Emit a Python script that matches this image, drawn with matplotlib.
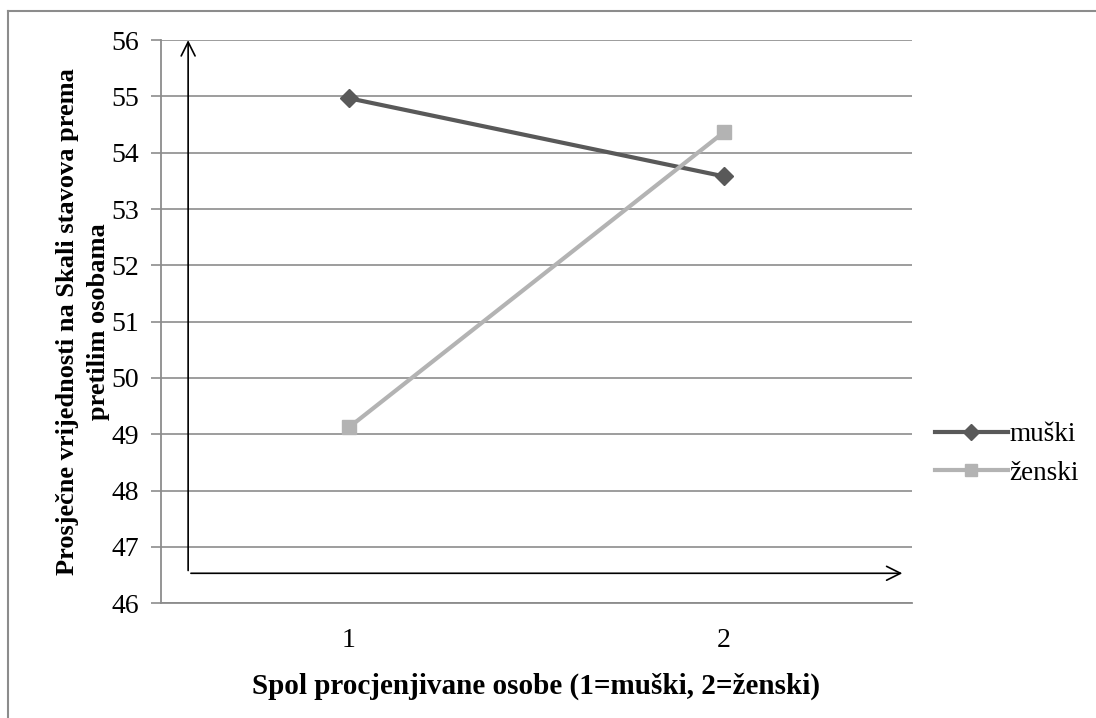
import matplotlib.pyplot as plt
from matplotlib.lines import Line2D

# data
categories = ["1", "2"]
muski = [54.97, 53.58]
zenski = [49.12, 54.37]
series_names = ["muški", "ženski"]

plt.rcParams['font.family'] = ['Liberation Serif', 'DejaVu Serif']

fig = plt.figure(figsize=(10.96, 7.18), dpi=100)
ax = fig.add_axes([0.147, 0.160, 0.685, 0.784])

x = [1, 2]
ax.plot(x, muski, color="#595959", lw=3, marker="D", ms=9, label=series_names[0], zorder=4)
ax.plot(x, zenski, color="#b3b3b3", lw=3, marker="s", ms=10, label=series_names[1], zorder=4)

ax.set_xlim(0.5, 2.5)
ax.set_ylim(46, 56)
ax.set_yticks(range(46, 57))
ax.set_xticks(x)
ax.set_xticklabels(categories)
ax.grid(axis="y", color="#8c8c8c", lw=1.2)
ax.set_axisbelow(True)

for s in ["top", "right"]:
    ax.spines[s].set_visible(False)
ax.spines["left"].set_color("#8c8c8c")
ax.spines["bottom"].set_color("#8c8c8c")
ax.spines["left"].set_linewidth(1.3)
ax.spines["bottom"].set_linewidth(1.3)
ax.tick_params(axis="y", length=7, width=1.2, color="#8c8c8c", labelsize=20, pad=9)
ax.tick_params(axis="x", length=0, labelsize=20, pad=18)

ax.set_xlabel("Spol procjenjivane osobe (1=muški, 2=ženski)", fontsize=21,
              fontweight="bold")
ax.xaxis.set_label_coords(0.5, -0.124)
ax.set_ylabel("Prosječne vrijednosti na Skali stavova prema\npretilim osobama",
              fontsize=19, fontweight="bold", linespacing=1.4, va="center")
ax.yaxis.set_label_coords(-0.104, 0.5)

# hand drawn arrows
ax.annotate("", xy=(0.036, 1.005), xytext=(0.036, 0.053), xycoords="axes fraction",
            arrowprops=dict(arrowstyle="->", color="black", lw=1.2, mutation_scale=25),
            annotation_clip=False)
ax.annotate("", xy=(0.991, 0.053), xytext=(0.036, 0.053), xycoords="axes fraction",
            arrowprops=dict(arrowstyle="->", color="black", lw=1.2, mutation_scale=25),
            annotation_clip=False)

handles = [Line2D([], [], color="#595959", lw=3, marker="D", ms=8),
           Line2D([], [], color="#b3b3b3", lw=3, marker="s", ms=9)]
fig.legend(handles, series_names, loc="center left", bbox_to_anchor=(0.853, 0.368),
           frameon=False, fontsize=19.5, handlelength=2.7, handletextpad=0.05,
           labelspacing=0.5, borderaxespad=0, borderpad=0)

# outer border
fig.add_artist(Line2D([0.0073, 0.0073], [0.0, 0.985], color="#8c8c8c", lw=1.5,
                      transform=fig.transFigure))
fig.add_artist(Line2D([0.0073, 1.0], [0.985, 0.985], color="#8c8c8c", lw=1.5,
                      transform=fig.transFigure))

plt.savefig("out.png", dpi=100)
